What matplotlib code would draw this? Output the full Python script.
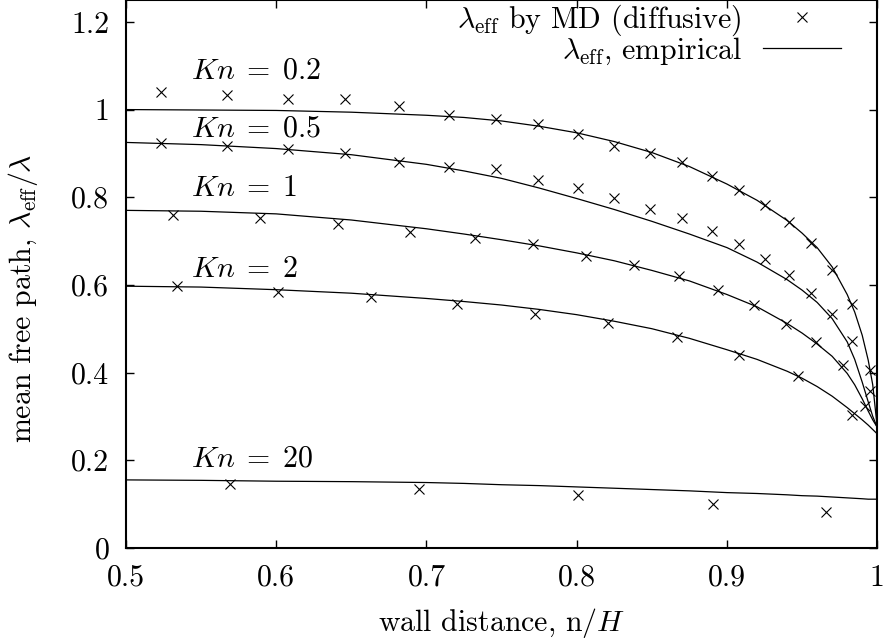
import numpy as np
import matplotlib
matplotlib.use("Agg")
import matplotlib.pyplot as plt
from matplotlib.ticker import FuncFormatter, MultipleLocator

plt.rcParams['font.family'] = 'serif'
plt.rcParams['font.serif'] = ['cmr10']
plt.rcParams['mathtext.fontset'] = 'cm'
plt.rcParams['axes.formatter.use_mathtext'] = True
plt.rcParams['font.size'] = 21.5

# MD results (diffusive walls), wall distance n/H vs lambda_eff/lambda
md_x_02 = [0.523, 0.567, 0.608, 0.646, 0.682, 0.715, 0.746, 0.774, 0.801, 0.825,
           0.849, 0.870, 0.890, 0.908, 0.925, 0.941, 0.956, 0.970, 0.983, 0.995]
md_y_02 = [1.040, 1.033, 1.024, 1.025, 1.007, 0.987, 0.979, 0.966, 0.944, 0.918,
           0.900, 0.880, 0.848, 0.817, 0.782, 0.743, 0.696, 0.635, 0.556, 0.405]

md_x_05 = [0.523, 0.567, 0.608, 0.646, 0.682, 0.715, 0.746, 0.774, 0.801, 0.825,
           0.849, 0.870, 0.890, 0.908, 0.925, 0.941, 0.956, 0.970, 0.983, 0.995]
md_y_05 = [0.923, 0.918, 0.911, 0.901, 0.880, 0.868, 0.865, 0.840, 0.820, 0.799,
           0.772, 0.753, 0.722, 0.693, 0.659, 0.623, 0.581, 0.534, 0.473, 0.358]

md_x_1 = [0.531, 0.589, 0.641, 0.689, 0.732, 0.771, 0.806, 0.838, 0.868, 0.894,
          0.918, 0.939, 0.959, 0.977, 0.992]
md_y_1 = [0.759, 0.753, 0.739, 0.721, 0.706, 0.694, 0.665, 0.645, 0.620, 0.588,
          0.554, 0.511, 0.470, 0.418, 0.324]

md_x_2 = [0.534, 0.601, 0.663, 0.720, 0.772, 0.821, 0.867, 0.908, 0.947, 0.983]
md_y_2 = [0.597, 0.583, 0.572, 0.556, 0.534, 0.513, 0.480, 0.441, 0.391, 0.302]

md_x_20 = [0.569, 0.695, 0.801, 0.891, 0.966]
md_y_20 = [0.146, 0.135, 0.121, 0.101, 0.082]

# empirical curves, sampled densely towards the wall
emp_x = [0.5, 0.55, 0.6, 0.65, 0.7, 0.725, 0.75, 0.775, 0.8, 0.825, 0.85, 0.875,
         0.9, 0.92, 0.94, 0.95, 0.96, 0.97, 0.98, 0.985, 0.99, 0.994, 0.997, 1.0]
emp_02 = [1.000, 0.999, 0.998, 0.994, 0.987, 0.982, 0.974, 0.962, 0.947, 0.927,
          0.902, 0.870, 0.830, 0.793, 0.747, 0.718, 0.685, 0.641, 0.578, 0.538,
          0.485, 0.428, 0.372, 0.275]
emp_05 = [0.925, 0.920, 0.911, 0.897, 0.875, 0.860, 0.843, 0.821, 0.797, 0.772,
          0.745, 0.716, 0.685, 0.652, 0.612, 0.588, 0.560, 0.523, 0.470, 0.430,
          0.378, 0.333, 0.300, 0.275]
emp_1 = [0.770, 0.768, 0.762, 0.748, 0.728, 0.716, 0.703, 0.689, 0.673, 0.655,
         0.633, 0.609, 0.578, 0.550, 0.512, 0.490, 0.465, 0.437, 0.398, 0.372,
         0.340, 0.312, 0.292, 0.275]
emp_2 = [0.597, 0.595, 0.589, 0.581, 0.569, 0.562, 0.554, 0.544, 0.532, 0.517,
         0.500, 0.478, 0.452, 0.430, 0.403, 0.387, 0.368, 0.346, 0.320, 0.306,
         0.292, 0.280, 0.270, 0.260]
emp_20 = [0.155, 0.154, 0.152, 0.151, 0.149, 0.147, 0.144, 0.142, 0.139, 0.136,
          0.133, 0.130, 0.126, 0.124, 0.121, 0.119, 0.118, 0.116, 0.114, 0.113,
          0.112, 0.111, 0.111, 0.111]

kn_labels = [r'$Kn\;=\;0.2$', r'$Kn\;=\;0.5$', r'$Kn\;=\;1$', r'$Kn\;=\;2$',
             r'$Kn\;=\;20$']
kn_label_y = [1.07, 0.939, 0.802, 0.617, 0.186]

fig = plt.figure(figsize=(8.87, 6.43), dpi=100)
ax = fig.add_axes([0.142, 0.148, 0.847, 0.852])

md_sets = [(md_x_02, md_y_02), (md_x_05, md_y_05), (md_x_1, md_y_1),
           (md_x_2, md_y_2), (md_x_20, md_y_20)]
for i, (mx, my) in enumerate(md_sets):
    ax.plot(mx, my, ls='none', marker='x', color='black', ms=6.5, mew=0.8,
            label=r'$\lambda_{\mathrm{eff}}$ by MD (diffusive)' if i == 0 else None)

for i, ey in enumerate([emp_02, emp_05, emp_1, emp_2, emp_20]):
    ax.plot(emp_x, ey, color='black', lw=0.9,
            label=r'$\lambda_{\mathrm{eff}}$, empirical' if i == 0 else None)

for lab, ly in zip(kn_labels, kn_label_y):
    ax.text(0.543, ly, lab, va='baseline', ha='left')

ax.set_xlim(0.5, 1.0)
ax.set_ylim(0, 1.25)
ax.xaxis.set_major_locator(MultipleLocator(0.1))
ax.yaxis.set_major_locator(MultipleLocator(0.2))
fmt = FuncFormatter(lambda v, p: '%g' % round(v, 3))
ax.xaxis.set_major_formatter(fmt)
ax.yaxis.set_major_formatter(fmt)
ax.tick_params(direction='in', length=5.5, width=1, top=True, right=True, pad=12)
for s in ax.spines.values():
    s.set_linewidth(1.5)

ax.set_xlabel('wall distance, n$/H$', labelpad=10)
ax.set_ylabel(r'mean free path, $\lambda_{\mathrm{eff}}/\lambda$', labelpad=10)
ax.yaxis.set_label_coords(-0.115, 0.455)

ax.legend(loc='upper right', bbox_to_anchor=(0.952, 0.995), frameon=False,
          markerfirst=False, handlelength=2.62, handletextpad=0.7,
          labelspacing=-0.08, borderaxespad=0.0, borderpad=0.0)

fig.savefig('out.png', dpi=100)
